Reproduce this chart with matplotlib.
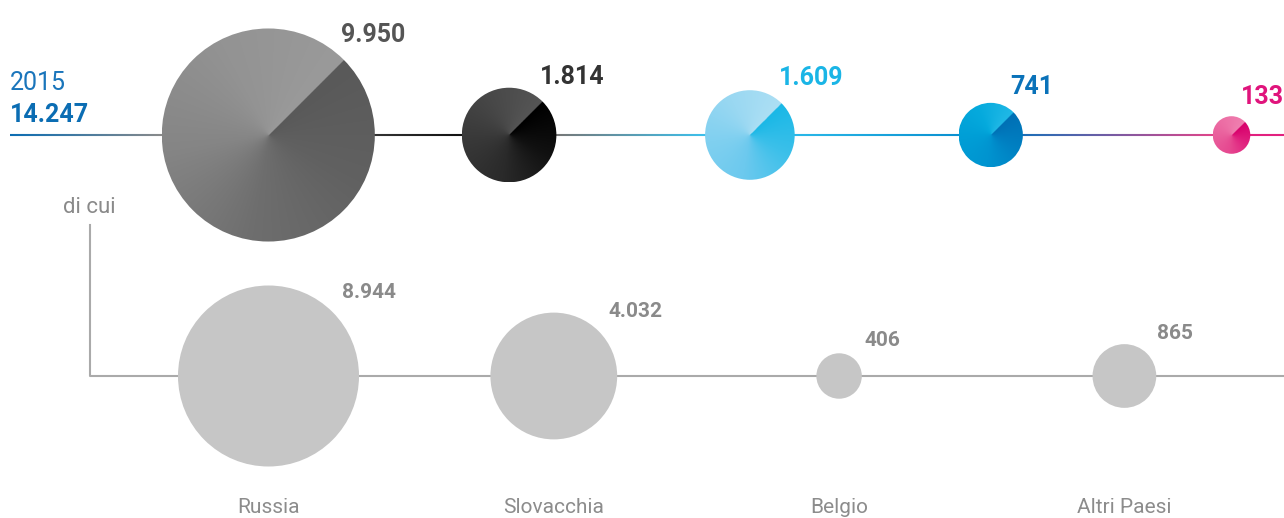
import numpy as np
import matplotlib
matplotlib.use('Agg')
import matplotlib.pyplot as plt
from matplotlib.patches import Circle
from matplotlib.collections import LineCollection
from matplotlib.colors import LinearSegmentedColormap, to_rgb

plt.rcParams['font.family'] = ['Roboto', 'DejaVu Sans']

# Data
year = '2015'
top_values = [9950, 1814, 1609, 741, 133]
countries = ['Russia', 'Slovacchia', 'Belgio', 'Altri Paesi']
country_values = [8944, 4032, 406, 865]

# Styles
top_gradients = [
    ['#595959', '#616161', '#6e6e6e', '#858585', '#939393', '#9a9a9a'],
    ['#000000', '#111111', '#2a2a2a', '#383838', '#484848', '#555555'],
    ['#1ab8e6', '#3cc0ea', '#6cc9ee', '#80d0f0', '#9ad8f2', '#acdff4'],
    ['#0070b5', '#0080c2', '#0094d0', '#009ed6', '#05aadd', '#20b8e6'],
    ['#d8006c', '#e0207e', '#e64890', '#e95d9b', '#ed70a6', '#ef80b0'],
]
top_text_colors = ['#555555', '#333333', '#1ab5e6', '#0a72b9', '#e0147c']
# colours of the connecting line at the left / right edge of each bubble
line_left = ['#8a8a8a', '#111111', '#3cc0ec', '#0a90d0', '#e0458a']
line_right = ['#333333', '#777777', '#2ab8e8', '#1a6fb8', '#e2207f']
blue = '#0b6db3'
grey_text = '#8a8a8a'
grey_circle = '#c6c6c6'
grey_line = '#aaaaaa'

W, H = 1284, 518
top_y, bottom_y = 135, 376


def fmt(v):
    return f'{v:,}'.replace(',', '.')


def r_top(v):
    return np.sqrt(1.12 * v + 204)


def r_bottom(v):
    return 1.55 * v ** 0.447


def conic_circle(ax, cx, cy, r, colors):
    """Circle filled with a conic gradient, seam at the upper right."""
    n = int(r * 10) + 40
    xs = np.linspace(cx - r, cx + r, n)
    ys = np.linspace(cy - r, cy + r, n)
    X, Y = np.meshgrid(xs, ys)
    theta = np.degrees(np.arctan2(-(Y - cy), X - cx))
    t = ((45 - theta) % 360) / 360
    cmap = LinearSegmentedColormap.from_list('conic', colors)
    rgba = cmap(t)
    im = ax.imshow(rgba, origin='upper',
                   extent=(cx - r, cx + r, cy + r, cy - r),
                   interpolation='antialiased', zorder=3)
    im.set_clip_path(Circle((cx, cy), r, transform=ax.transData))


fig = plt.figure(figsize=(W / 100, H / 100), dpi=100)
ax = fig.add_axes([0, 0, 1, 1])
ax.set_xlim(0, W)
ax.set_ylim(H, 0)
ax.axis('off')

top_x = [268.3 + 240.8 * i for i in range(len(top_values))]
top_r = [r_top(v) for v in top_values]
bot_x = [268.5 + 285.3 * i for i in range(len(countries))]
bot_r = [r_bottom(v) for v in country_values]

# Gradient line on the top row
stop_x = [10]
stop_c = [blue]
for cx, r, cl, cr in zip(top_x, top_r, line_left, line_right):
    stop_x += [cx - r, cx + r]
    stop_c += [cl, cr]
stop_x.append(W)
stop_c.append(line_right[-1])
rgb = np.array([to_rgb(c) for c in stop_c])
lx = np.linspace(10, W, 1500)
cols = np.column_stack([np.interp(lx, stop_x, rgb[:, k]) for k in range(3)])
pts = np.column_stack([lx, np.full_like(lx, top_y)])
segs = np.stack([pts[:-1], pts[1:]], axis=1)
ax.add_collection(LineCollection(segs, colors=cols[:-1], linewidths=1.5, zorder=1))

# Top bubbles
for cx, r, v, g, tc in zip(top_x, top_r, top_values, top_gradients, top_text_colors):
    conic_circle(ax, cx, top_y, r, g)
    lx0 = min(cx + 0.707 * r - 3, W - 43)
    ax.text(lx0, top_y - 0.707 * r - 18, fmt(v), color=tc,
            fontsize=18, fontweight='bold', ha='left', va='baseline')

ax.text(10, 90, year, color='#1a75bb', fontsize=18, ha='left', va='baseline')
ax.text(10, 121.7, fmt(sum(top_values)), color=blue, fontsize=18,
        fontweight='bold', ha='left', va='baseline')

# "di cui" connector and bottom row
ax.text(89, 213, 'di cui', color=grey_text, fontsize=16, ha='center', va='baseline')
ax.plot([90, 90, W], [225, bottom_y, bottom_y], color=grey_line, lw=1.5, zorder=1)

for cx, r, v, name in zip(bot_x, bot_r, country_values, countries):
    ax.add_patch(Circle((cx, bottom_y), r, facecolor=grey_circle,
                        edgecolor='none', zorder=3))
    ax.text(cx + 0.707 * r + 9.6, bottom_y - 0.707 * r - 14.4, fmt(v),
            color=grey_text, fontsize=15, fontweight='bold', ha='left', va='baseline')
    ax.text(cx, 513, name, color='#8c8c8c', fontsize=15,
            ha='center', va='baseline')

fig.savefig('out.png', dpi=100)
